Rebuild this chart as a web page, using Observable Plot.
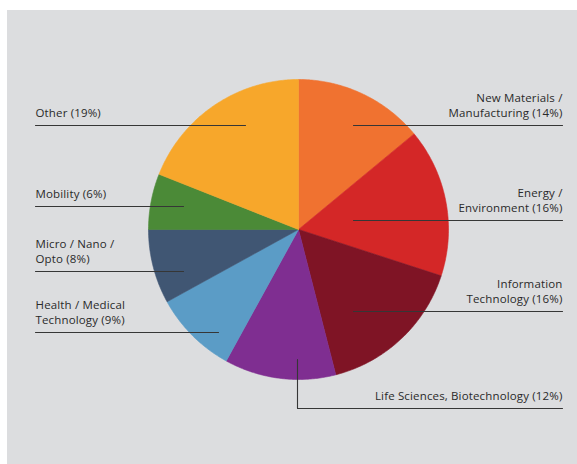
<!DOCTYPE html>
<html><head><meta charset="utf-8">
<script src="https://cdn.jsdelivr.net/npm/d3@7"></script>
<script src="https://cdn.jsdelivr.net/npm/@observablehq/plot@0.6"></script>
<style>
html,body{margin:0;padding:0;background:#fff;}
#wrap{position:relative;width:577px;height:464px;overflow:hidden;}
#panel{position:absolute;left:7px;top:10px;right:0;bottom:0;background:#dcdddf;}
#chart{position:absolute;left:0;top:0;}
</style></head><body>
<div id="wrap"><div id="panel"></div><div id="chart"></div></div>
<script>
// ---- data ----
const categories = ["New Materials / Manufacturing", "Energy / Environment", "Information Technology", "Life Sciences, Biotechnology", "Health / Medical Technology", "Micro / Nano / Opto", "Mobility", "Other"];
const shares = [14, 16, 16, 12, 9, 8, 6, 19];
const labels = ["New Materials /\nManufacturing (14%)", "Energy /\nEnvironment (16%)", "Information\nTechnology (16%)", "Life Sciences, Biotechnology (12%)", "Health / Medical\nTechnology (9%)", "Micro / Nano /\nOpto (8%)", "Mobility (6%)", "Other (19%)"];
const colors = ["#f07230", "#d42727", "#7f1425", "#7f2e91", "#5b9cc6", "#405673", "#4b8a37", "#f7a72b"];

// ---- layout ----
const W = 577, H = 464, CX = 298, CY = 229, R = 150;
const LEFT_X = 35, RIGHT_X = 562;
// per category: side, leader line y, inner end x (elbow for Life Sciences)
const leaderLayout = [
  {side: "right", y: 125, inner: 353},
  {side: "right", y: 220, inner: 353},
  {side: "right", y: 311, inner: 353},
  {side: "right", y: 408, inner: 297, elbowY: 359},
  {side: "left", y: 332, inner: 218},
  {side: "left", y: 271, inner: 183},
  {side: "left", y: 206, inner: 183},
  {side: "left", y: 125, inner: 245}
];

const arcs = d3.pie().sort(null).value(d => d)(shares);
const slicePts = [];
arcs.forEach((a, i) => {
  const cat = categories[i];
  const n = Math.max(4, Math.ceil((a.endAngle - a.startAngle) / 0.01));
  slicePts.push({cat, x: CX, y: CY});
  for (let k = 0; k <= n; k++) {
    const t = a.startAngle + (a.endAngle - a.startAngle) * k / n;
    slicePts.push({cat, x: CX + R * Math.sin(t), y: CY - R * Math.cos(t)});
  }
  slicePts.push({cat, x: CX, y: CY});
});

const leaderPts = [];
const textData = [];
leaderLayout.forEach((l, i) => {
  const cat = categories[i];
  const outer = l.side === "left" ? LEFT_X : RIGHT_X;
  if (l.elbowY != null) leaderPts.push({cat, x: l.inner, y: l.elbowY});
  leaderPts.push({cat, x: l.inner, y: l.y});
  leaderPts.push({cat, x: outer, y: l.y});
  textData.push({text: labels[i], x: outer, y: l.y - 9, side: l.side});
});

const textOpts = {x: "x", y: "y", text: "text", lineAnchor: "bottom", lineHeight: 1.3, fill: "#2a2a2a", fontSize: 11.5};
const chart = Plot.plot({
  width: W, height: H, margin: 0,
  x: {domain: [0, W], range: [0, W], axis: null},
  y: {domain: [0, H], range: [0, H], axis: null},
  color: {domain: categories, range: colors},
  style: {background: "transparent", fontFamily: "'Open Sans', sans-serif", fontSize: "11.5px", letterSpacing: "0.15px"},
  marks: [
    Plot.line(slicePts, {x: "x", y: "y", z: "cat", fill: "cat", stroke: "cat", strokeWidth: 0.6, curve: "linear"}),
    Plot.line(leaderPts, {x: "x", y: "y", z: "cat", stroke: "#363636", strokeWidth: 1.1, curve: "linear"}),
    Plot.text(textData.filter(d => d.side === "left"), {...textOpts, textAnchor: "start"}),
    Plot.text(textData.filter(d => d.side === "right"), {...textOpts, textAnchor: "end"})
  ]
});
document.getElementById("chart").appendChild(chart);
</script>
</body></html>
